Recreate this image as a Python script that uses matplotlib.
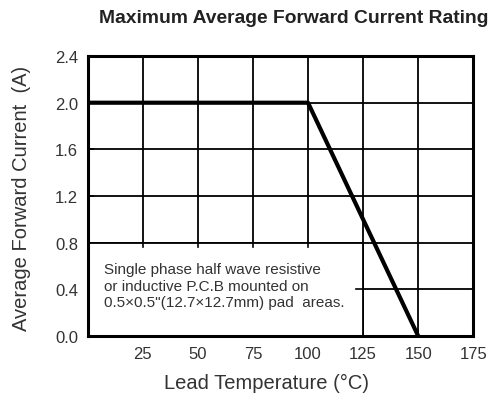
import matplotlib
matplotlib.use('Agg')
import matplotlib.pyplot as plt
from matplotlib.patches import Rectangle

plt.rcParams['font.family'] = ['Liberation Sans', 'DejaVu Sans']

# derating curve
temp = [0, 100, 150]
current = [2.0, 2.0, 0.0]

x_ticks = [25, 50, 75, 100, 125, 150, 175]
y_ticks = [0.0, 0.4, 0.8, 1.2, 1.6, 2.0, 2.4]

note = ("Single phase half wave resistive\n"
        "or inductive P.C.B mounted on\n"
        "0.5\u00d70.5\"(12.7\u00d712.7mm) pad  areas.")

fig = plt.figure(figsize=(4.96, 4.02), dpi=100)
ax = fig.add_axes([0.177, 0.162, 0.777, 0.696])

ax.set_xlim(0, 175)
ax.set_ylim(0, 2.4)
ax.set_xticks(x_ticks)
ax.set_yticks(y_ticks)
ax.set_yticklabels([f'{v:.1f}' for v in y_ticks])
ax.tick_params(direction='in', length=4, width=1.2, labelsize=12, colors='black', labelcolor='#333333', pad=7)
ax.grid(True, color='black', linewidth=1.3)
ax.set_axisbelow(True)
for s in ax.spines.values():
    s.set_linewidth(2.2)

# note box hides the grid in its corner
box = Rectangle((0, 0), 125, 0.8, facecolor='white', edgecolor='black', linewidth=1.3, zorder=1.5)
ax.add_patch(box)
for xv in [25, 50, 75, 100]:
    ax.plot([xv, xv], [0.8, 0.76], color='black', lw=1.2, zorder=1.6)
ax.plot([125, 122], [0.4, 0.4], color='black', lw=1.2, zorder=1.6)
ax.text(7.5, 0.43, note, fontsize=11, color='#333333', va='center', ha='left', linespacing=1.25, zorder=2)

ax.plot(temp, current, color='black', linewidth=3, zorder=3, solid_capstyle='butt')

ax.set_xlabel('Lead Temperature (\u00b0C)', fontsize=14.5, color='#333333')
ax.set_ylabel('Average Forward Current  (A)', fontsize=14.5, color='#333333')
ax.xaxis.set_label_coords(0.465, -0.132)
ax.yaxis.set_label_coords(-0.148, 0.496)

fig.text(0.593, 0.955, 'Maximum Average Forward Current Rating', fontsize=13.9, fontweight='bold',
         ha='center', va='center', color='#222222')

fig.savefig('out.png', dpi=100)
